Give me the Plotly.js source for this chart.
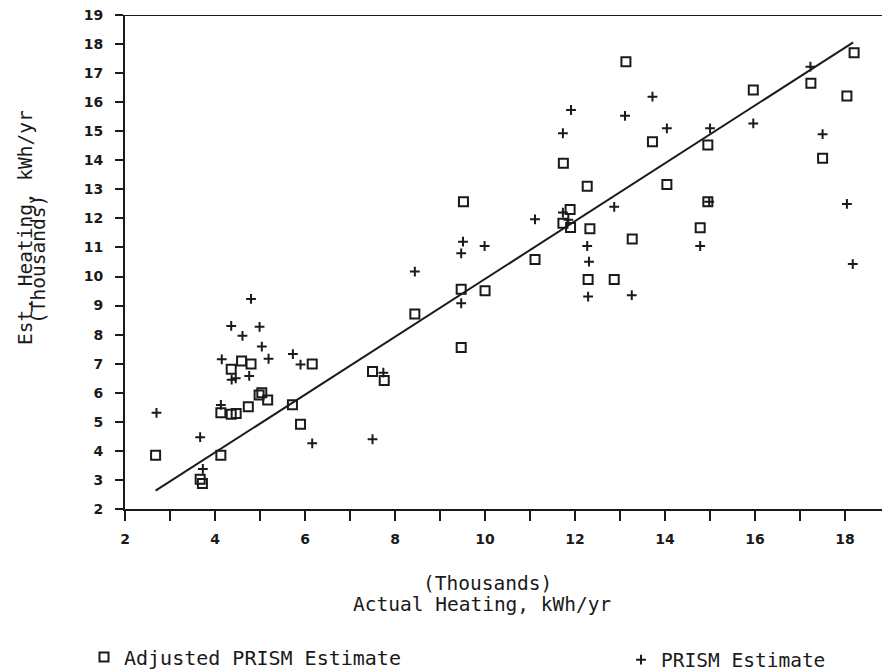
<!DOCTYPE html>
<html>
<head>
<meta charset="utf-8">
<script src="https://cdn.plot.ly/plotly-3.0.1.min.js"></script>
<style>html,body{margin:0;padding:0;background:#fff;}#chart{width:882px;height:671px;}</style>
</head>
<body>
<div id="chart"></div>
<script>
// Adjusted PRISM Estimate (open squares)
const adjX = [2.68, 3.67, 3.72, 4.13, 4.13, 4.36, 4.47, 4.74, 4.98, 5.04, 5.17, 5.72, 5.90, 6.16, 4.36, 4.59, 4.80,
              7.50, 7.76, 8.44, 9.47, 9.47, 10.00, 9.52, 11.11,
              13.13, 13.72, 11.74, 12.27, 14.04, 14.95, 14.95, 11.89, 11.73, 11.90, 12.33, 13.27, 14.78, 12.29, 12.87,
              18.20, 17.24, 15.96, 18.04, 17.50];
const adjY = [3.85, 3.02, 2.88, 3.85, 5.31, 5.26, 5.29, 5.52, 5.92, 6.00, 5.75, 5.59, 4.92, 6.99, 6.81, 7.09, 6.99,
              6.73, 6.42, 8.71, 7.56, 9.56, 9.51, 12.57, 10.59,
              17.39, 14.64, 13.90, 13.11, 13.17, 14.53, 12.57, 12.31, 11.83, 11.69, 11.64, 11.29, 11.68, 9.90, 9.90,
              17.70, 16.65, 16.42, 16.21, 14.07];
// PRISM Estimate (plus marks)
const prismX = [4.80, 4.36, 4.99, 4.61, 5.04, 4.15, 5.19, 5.73, 5.90, 4.76, 4.37, 4.46, 2.70, 4.13, 3.67, 3.73, 6.16,
                9.51, 9.47, 9.99, 8.44, 9.47, 11.11, 7.74, 7.50,
                11.91, 11.73, 13.11, 13.72, 14.04, 15.00, 12.87, 11.73, 11.85, 12.27, 12.31, 12.29, 13.26, 14.78, 14.98,
                17.23, 15.96, 17.50, 18.04, 18.17];
const prismY = [9.23, 8.30, 8.27, 7.96, 7.59, 7.15, 7.17, 7.33, 6.97, 6.58, 6.45, 6.50, 5.31, 5.58, 4.47, 3.38, 4.26,
                11.20, 10.80, 11.05, 10.17, 9.08, 11.97, 6.69, 4.40,
                15.73, 14.93, 15.53, 16.19, 15.10, 15.10, 12.40, 12.20, 11.95, 11.05, 10.51, 9.31, 9.36, 11.05, 12.57,
                17.22, 15.27, 14.90, 12.50, 10.43];
// Fitted line
const lineX = [2.68, 18.18];
const lineY = [2.63, 18.06];
// Ticks
const xTickVals = [2,3,4,5,6,7,8,9,10,11,12,13,14,15,16,17,18];
const xTickText = ['2','','4','','6','','8','','10','','12','','14','','16','','18'];
const yTickVals = [2,3,4,5,6,7,8,9,10,11,12,13,14,15,16,17,18,19];
const yTickText = yTickVals.map(String);

const ink = '#1a1a1a';
const mono = '"DejaVu Sans Mono", monospace';
const tickFont = {family: '"DejaVu Sans", sans-serif', size: 14, weight: 700, color: ink};

const traces = [
  {x: adjX, y: adjY, type: 'scatter', mode: 'markers', name: 'Adjusted PRISM Estimate', legend: 'legend',
   marker: {symbol: 'square-open', size: 9, color: ink, line: {width: 2, color: ink}}},
  {x: prismX, y: prismY, type: 'scatter', mode: 'markers', name: 'PRISM Estimate', legend: 'legend2',
   marker: {symbol: 'cross-thin-open', size: 7, color: ink, line: {width: 2, color: ink}}},
  {x: lineX, y: lineY, type: 'scatter', mode: 'lines', showlegend: false,
   line: {color: ink, width: 2}}
];

const legendBase = {xref: 'container', yref: 'container', xanchor: 'left', yanchor: 'middle',
                    font: {family: mono, size: 20, color: ink}, bgcolor: 'rgba(0,0,0,0)', borderwidth: 0};

const layout = {
  width: 882, height: 671,
  margin: {l: 125, r: 0, t: 15, b: 162, autoexpand: false},
  paper_bgcolor: '#fff', plot_bgcolor: '#fff',
  showlegend: true,
  legend: Object.assign({}, legendBase, {x: 84 / 882, y: 1 - 657 / 671}),
  legend2: Object.assign({}, legendBase, {x: 621 / 882, y: 1 - 660 / 671, font: {family: mono, size: 19.5, color: ink}}),
  xaxis: {range: [2, 18.82], tickvals: xTickVals, ticktext: xTickText, ticks: 'outside', ticklen: 10,
          tickwidth: 2, tickcolor: ink, showline: true, linecolor: ink, linewidth: 2, showgrid: false,
          zeroline: false, ticklabelstandoff: 6, tickfont: tickFont, automargin: false},
  yaxis: {range: [2, 19], tickvals: yTickVals, ticktext: yTickText, ticks: 'outside', ticklen: 8,
          tickwidth: 2, tickcolor: ink, showline: true, linecolor: ink, linewidth: 2, showgrid: false,
          zeroline: false, ticklabelstandoff: 9, tickfont: tickFont, automargin: false},
  shapes: [
    {type: 'line', xref: 'paper', yref: 'y', x0: 0, x1: 1, y0: 19, y1: 19, line: {color: ink, width: 2}}
  ],
  annotations: [
    {text: '(Thousands)', xref: 'paper', yref: 'paper', x: (487 - 125) / 757, y: -(583 - 509) / 494,
     showarrow: false, xanchor: 'center', yanchor: 'middle', font: {family: mono, size: 19.5, color: ink}},
    {text: 'Actual Heating, kWh/yr', xref: 'paper', yref: 'paper', x: (482 - 125) / 757, y: -(604 - 509) / 494,
     showarrow: false, xanchor: 'center', yanchor: 'middle', font: {family: mono, size: 19.5, color: ink}},
    {text: 'Est. Heating, kWh/yr', xref: 'paper', yref: 'paper', x: (25 - 125) / 757, y: (509 - 227) / 494,
     showarrow: false, textangle: -90, xanchor: 'center', yanchor: 'middle', font: {family: mono, size: 19.5, color: ink}},
    {text: '(Thousands)', xref: 'paper', yref: 'paper', x: (38 - 125) / 757, y: (509 - 260) / 494,
     showarrow: false, textangle: -90, xanchor: 'center', yanchor: 'middle', font: {family: mono, size: 19.5, color: ink}}
  ]
};

Plotly.newPlot('chart', traces, layout, {displayModeBar: false, staticPlot: true});
</script>
</body>
</html>
